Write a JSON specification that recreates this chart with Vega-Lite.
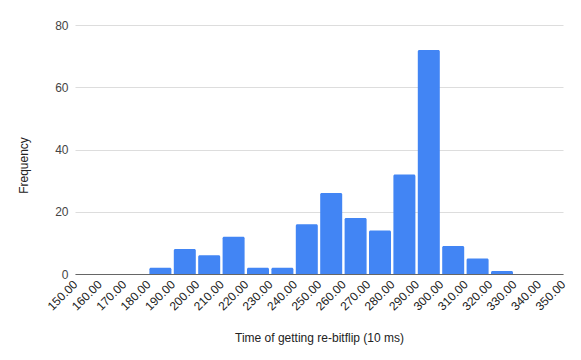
{
  "$schema": "https://vega.github.io/schema/vega-lite/v6.json",
  "autosize": "none",
  "width": 488,
  "height": 249,
  "padding": {"left": 75, "top": 25, "right": 18, "bottom": 86},
  "background": "white",
  "config": {
    "view": {"stroke": null},
    "font": "Liberation Sans"
  },
  "data": {
    "values": [
      {"bin_start": 150, "bin_end": 160, "count": 0},
      {"bin_start": 160, "bin_end": 170, "count": 0},
      {"bin_start": 170, "bin_end": 180, "count": 0},
      {"bin_start": 180, "bin_end": 190, "count": 2},
      {"bin_start": 190, "bin_end": 200, "count": 8},
      {"bin_start": 200, "bin_end": 210, "count": 6},
      {"bin_start": 210, "bin_end": 220, "count": 12},
      {"bin_start": 220, "bin_end": 230, "count": 2},
      {"bin_start": 230, "bin_end": 240, "count": 2},
      {"bin_start": 240, "bin_end": 250, "count": 16},
      {"bin_start": 250, "bin_end": 260, "count": 26},
      {"bin_start": 260, "bin_end": 270, "count": 18},
      {"bin_start": 270, "bin_end": 280, "count": 14},
      {"bin_start": 280, "bin_end": 290, "count": 32},
      {"bin_start": 290, "bin_end": 300, "count": 72},
      {"bin_start": 300, "bin_end": 310, "count": 9},
      {"bin_start": 310, "bin_end": 320, "count": 5},
      {"bin_start": 320, "bin_end": 330, "count": 1},
      {"bin_start": 330, "bin_end": 340, "count": 0},
      {"bin_start": 340, "bin_end": 350, "count": 0}
    ]
  },
  "mark": {"type": "bar", "color": "#4285F4", "xOffset": 1.2, "x2Offset": -1.2, "cornerRadiusTopLeft": 1.5, "cornerRadiusTopRight": 1.5},
  "encoding": {
    "x": {
      "field": "bin_start",
      "type": "quantitative",
      "scale": {"domain": [150, 350], "nice": false},
      "axis": {
        "title": "Time of getting re-bitflip (10 ms)",
        "titleFontSize": 12,
        "titleFontWeight": "normal",
        "titleColor": "#222222",
        "titlePadding": 20,
        "values": [150,160,170,180,190,200,210,220,230,240,250,260,270,280,290,300,310,320,330,340,350],
        "format": ".2f",
        "labelAngle": -45,
        "labelAlign": "right",
        "labelBaseline": "middle",
        "labelFontSize": 12,
        "labelColor": "#222222",
        "labelPadding": 8,
        "labelOverlap": false,
        "labelFlush": false,
        "ticks": false,
        "grid": false,
        "domain": true,
        "domainColor": "#666666",
        "domainWidth": 1,
        "zindex": 1
      }
    },
    "x2": {"field": "bin_end"},
    "y": {
      "field": "count",
      "type": "quantitative",
      "scale": {"domain": [0, 80], "nice": false},
      "axis": {
        "title": "Frequency",
        "titleFontSize": 12,
        "titleFontWeight": "normal",
        "titleColor": "#222222",
        "titlePadding": 24,
        "titleY": 140,
        "values": [0, 20, 40, 60, 80],
        "labelFontSize": 12,
        "labelColor": "#444444",
        "labelPadding": 7,
        "ticks": false,
        "domain": false,
        "gridColor": "#dddddd",
        "gridWidth": 1
      }
    },
    "y2": {"datum": 0}
  }
}
